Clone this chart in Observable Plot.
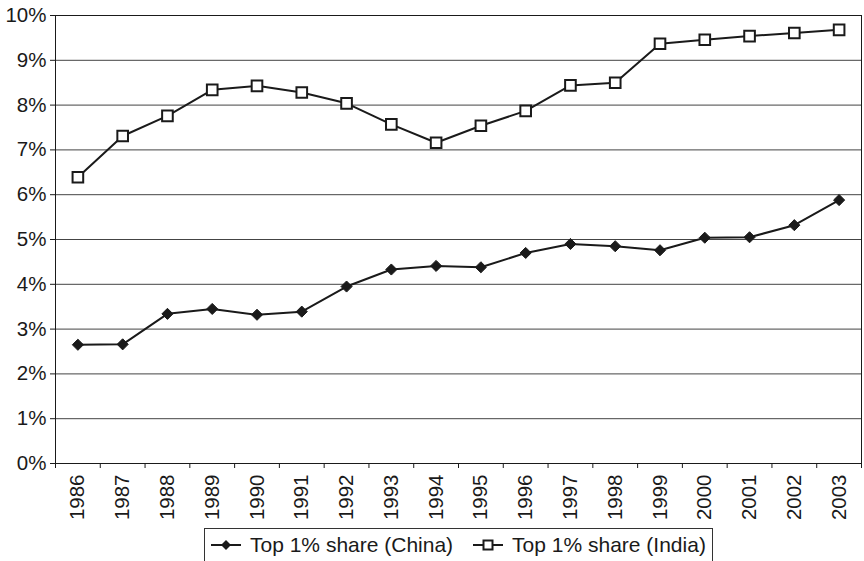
<!DOCTYPE html>
<html><head><meta charset="utf-8">
<script src="https://cdn.jsdelivr.net/npm/d3@7"></script>
<script src="https://cdn.jsdelivr.net/npm/@observablehq/plot@0.6"></script>
<style>
body{margin:0;background:#fff;font-family:"Liberation Sans",Arial,sans-serif;}
#chart{position:absolute;left:0;top:0;}
#chart svg text{font-size:20.5px !important;font-family:"Liberation Sans",Arial,sans-serif !important;}
#legend{position:absolute;left:204px;top:528px;border:1px solid #333;height:34px;display:flex;align-items:center;padding:0 6px 0 6px;font-size:21px;color:#1a1a1a;white-space:nowrap;box-sizing:border-box;background:#fff;}
#legend .item{display:flex;align-items:center;}
#legend svg{margin-right:9px;}
</style></head><body>
<div id="chart"></div>
<div id="legend"></div>
<script>
const years = [1986,1987,1988,1989,1990,1991,1992,1993,1994,1995,1996,1997,1998,1999,2000,2001,2002,2003];
const china = [2.65,2.66,3.34,3.45,3.32,3.39,3.95,4.33,4.41,4.38,4.70,4.90,4.85,4.76,5.04,5.05,5.32,5.88];
const india = [6.39,7.31,7.76,8.34,8.43,8.28,8.04,7.57,7.16,7.54,7.87,8.44,8.50,9.37,9.46,9.54,9.61,9.68];
const yTicks = [0,1,2,3,4,5,6,7,8,9,10];
const seriesNames = ["Top 1% share (China)","Top 1% share (India)"];

const ink = "#1a1a1a";
const chinaRows = years.map((y,i)=>({year:y, value:china[i]}));
const indiaRows = years.map((y,i)=>({year:y, value:india[i]}));
const boundaries = years.map(y=>y-0.5).concat([years[years.length-1]+0.5]);

const chart = Plot.plot({
  width: 864, height: 524,
  marginLeft: 55, marginRight: 3, marginTop: 15, marginBottom: 61,
  style: {fontFamily: "'Liberation Sans', Arial, sans-serif", fontSize: "20px", color: ink, background: "transparent"},
  x: {domain: [years[0]-0.5, years[years.length-1]+0.5]},
  y: {domain: [0, 10]},
  marks: [
    Plot.gridY(yTicks, {stroke: "#444", strokeOpacity: 1}),
    Plot.frame({stroke: ink}),
    Plot.axisY(yTicks, {tickSize: 5, tickPadding: 4, tickFormat: d => d + "%", label: null, stroke: ink, fontSize: 20}),
    Plot.axisX(boundaries, {tickSize: 5, tickFormat: () => "", label: null, stroke: ink}),
    Plot.axisX(years, {tickSize: 0, tickPadding: 11, tickRotate: -90, tickFormat: d => String(d), label: null, fontSize: 20}),
    Plot.line(chinaRows, {x: "year", y: "value", stroke: ink, strokeWidth: 2}),
    Plot.line(indiaRows, {x: "year", y: "value", stroke: ink, strokeWidth: 2}),
    Plot.dot(chinaRows, {x: "year", y: "value", symbol: "diamond2", r: 5, fill: ink, stroke: ink, strokeWidth: 1}),
    Plot.dot(indiaRows, {x: "year", y: "value", symbol: "square", r: 6, fill: "white", stroke: ink, strokeWidth: 2})
  ]
});
document.getElementById("chart").appendChild(chart);

const legend = document.getElementById("legend");
const icons = [
  `<svg width="30" height="14"><line x1="0" y1="7" x2="30" y2="7" stroke="${ink}" stroke-width="2"/><path d="M15 2 L20 7 L15 12 L10 7 Z" fill="${ink}"/></svg>`,
  `<svg width="30" height="14"><line x1="0" y1="7" x2="30" y2="7" stroke="${ink}" stroke-width="2"/><rect x="10.5" y="2.5" width="9" height="9" fill="#fff" stroke="${ink}" stroke-width="2"/></svg>`
];
seriesNames.forEach((name, i) => {
  const item = document.createElement("div");
  item.className = "item";
  if (i > 0) item.style.marginLeft = "20px";
  item.innerHTML = icons[i] + `<span>${name}</span>`;
  legend.appendChild(item);
});
</script>
</body></html>
